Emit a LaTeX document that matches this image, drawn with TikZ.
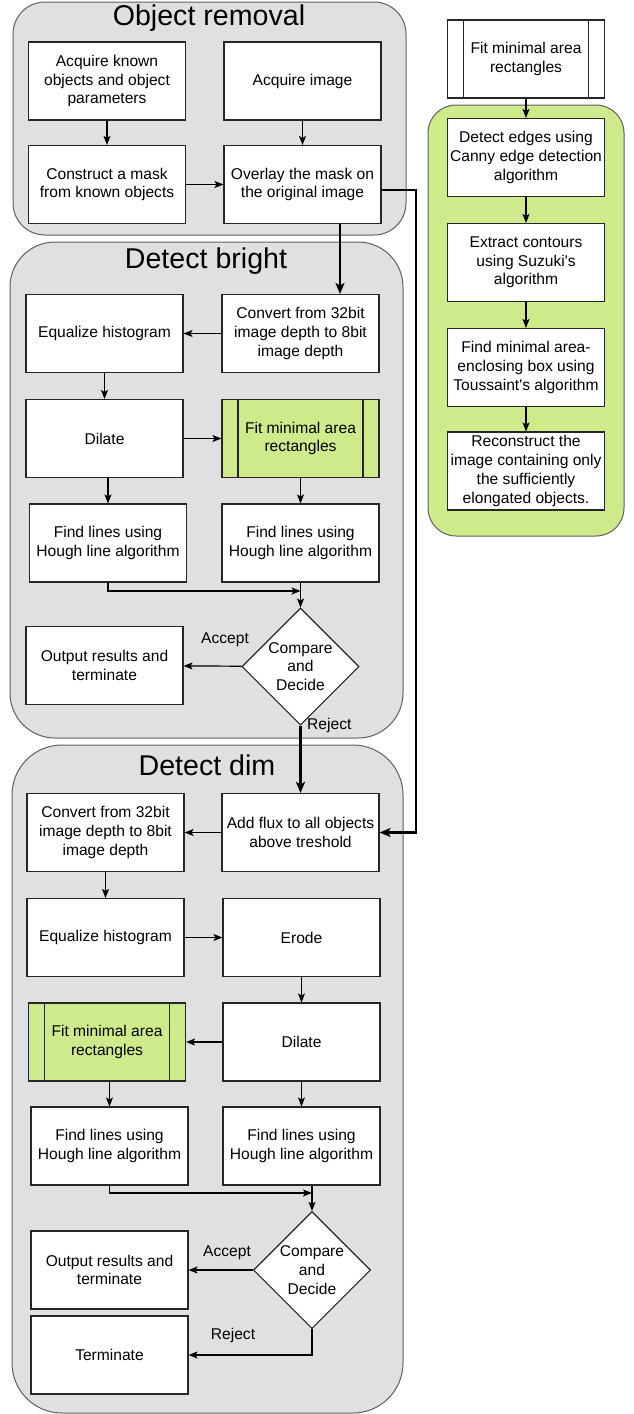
\documentclass[tikz,border=0pt]{standalone}
\usepackage{fontspec}
\setmainfont{Liberation Sans}[Ligatures=TeXOff]
\usetikzlibrary{shapes.geometric,arrows.meta}
\definecolor{panelgray}{RGB}{224,224,224}
\definecolor{panelline}{RGB}{95,95,95}
\definecolor{fitgreen}{RGB}{205,235,139}
\tikzset{
  box/.style={draw=black!85,line width=1.1pt,fill=white,minimum width=157,minimum height=78,inner sep=0pt,align=center,font=\fontsize{15.6}{18.7}\selectfont},
  fitbox/.style={box,fill=fitgreen,path picture={\draw[black!85,line width=1.1pt] ([xshift=16pt]path picture bounding box.north west) -- ([xshift=16pt]path picture bounding box.south west) ([xshift=-16pt]path picture bounding box.north east) -- ([xshift=-16pt]path picture bounding box.south east);}},
  decide/.style={box,shape=diamond,minimum width=117,minimum height=117,aspect=1,inner sep=-6pt},
  panel/.style={draw=panelline,fill=panelgray,line width=1pt},
  title/.style={font=\fontsize{28.6}{34}\selectfont,anchor=base,inner sep=0pt},
  tag/.style={font=\fontsize{15.6}{18.7}\selectfont,inner sep=0pt},
  flow/.style={-{Stealth[length=9pt,width=7pt,inset=2pt]},line width=1.2pt},
  mainflow/.style={-{Stealth[length=11pt,width=9pt,inset=2.5pt]},line width=2.4pt}
}
\begin{document}
\begin{tikzpicture}[x=1pt,y=-1pt]
\useasboundingbox (0,0) rectangle (633,1414);
\draw[panel,rounded corners=32pt] (13,2) rectangle (406,235);
\draw[panel,rounded corners=45pt] (10,242) rectangle (403,738);
\draw[panel,rounded corners=50pt] (12,745) rectangle (403,1413);
\draw[panel,fill=fitgreen,rounded corners=28pt] (428,105) rectangle (624,536);
\node[title] (ortitle) at (209,25) {Object removal};
\node[title] (dbtitle) at (206,268) {Detect bright};
\node[title] (ddtitle) at (207,775) {Detect dim};
% object removal
\node[box] (acqobj) at (107,81) {Acquire known\\objects and object\\parameters};
\node[box] (acqimg) at (302.5,81) {Acquire image};
\node[box] (constr) at (107,184.5) {Construct a mask\\from known objects};
\node[box] (overlay) at (302.5,184.5) {Overlay the mask on\\the original image};
% detect bright
\node[box] (eqb) at (104.5,333.5) {Equalize histogram};
\node[box] (convb) at (300.5,333.5) {Convert from 32bit\\image depth to 8bit\\image depth};
\node[box] (dilb) at (104.5,438.5) {Dilate};
\node[fitbox] (fitb) at (300.5,438.5) {Fit minimal area\\rectangles};
\node[box] (findlb) at (108,543) {Find lines using\\Hough line algorithm};
\node[box] (findrb) at (300.5,543) {Find lines using\\Hough line algorithm};
\node[decide] (cmpb) at (300.5,666.5) {Compare\\and\\Decide};
\node[box] (outb) at (104.5,665.5) {Output results and\\terminate};
% detect dim
\node[box] (convd) at (105.5,832.5) {Convert from 32bit\\image depth to 8bit\\image depth};
\node[box] (addd) at (300.5,832.5) {Add flux to all objects\\above treshold};
\node[box] (eqd) at (105.5,937.5) {Equalize histogram};
\node[box] (erod) at (301.5,937.5) {Erode};
\node[fitbox] (fitd) at (107,1042) {Fit minimal area\\rectangles};
\node[box] (dild) at (301.5,1042) {Dilate};
\node[box] (findld) at (109.5,1146) {Find lines using\\Hough line algorithm};
\node[box] (findrd) at (301.5,1146) {Find lines using\\Hough line algorithm};
\node[decide] (cmpd) at (312,1270) {Compare\\and\\Decide};
\node[box] (outd) at (109.5,1270) {Output results and\\terminate};
\node[box] (termd) at (109.5,1355) {Terminate};
% fit minimal area rectangles
\node[fitbox,fill=white] (fittop) at (526,59) {Fit minimal area\\rectangles};
\node[box] (edges) at (526,157.5) {Detect edges using\\Canny edge detection\\algorithm};
\node[box] (contours) at (526,262.5) {Extract contours\\using Suzuki's\\algorithm};
\node[box] (minbox) at (526,367.5) {Find minimal area-\\enclosing box using\\Toussaint's algorithm};
\node[box] (recon) at (526,471) {Reconstruct the\\image containing only\\the sufficiently\\elongated objects.};
\node[tag] (acceptb) at (225,640) {Accept};
\node[tag,anchor=west] (rejectb) at (307,725) {Reject};
\node[tag] (acceptd) at (227,1253) {Accept};
\node[tag] (rejectd) at (233,1335) {Reject};
\coordinate (dropb) at (340,0);
\coordinate (sidebus) at (416,190);
\coordinate (joinb) at (300.5,591);
\coordinate (joind) at (312,1193);
\foreach \a/\b in {acqobj/constr,acqimg/overlay,constr/overlay,convb/eqb,eqb/dilb,dilb/fitb,fitb/findrb,findrb/cmpb,cmpb/outb}\draw[flow] (\a) -- (\b);
\foreach \a/\b in {addd/convd,convd/eqd,eqd/erod,erod/dild,dild/fitd,dild/findrd,cmpd/outd}\draw[flow] (\a) -- (\b);
\foreach \a/\b in {fittop/edges,edges/contours,contours/minbox,minbox/recon}\draw[flow] (\a) -- (\b);
\draw[flow] (dilb.south -| findlb) -- (findlb);
\draw[flow] (findlb.south) |- (joinb);
\draw[flow] (fitd.south -| findld) -- (findld);
\draw[flow] (findld.south) |- (joind);
\draw[flow] (findrd.south -| cmpd) -- (cmpd);
\draw[flow] (cmpd.south) |- (termd);
\draw[mainflow] (overlay.south -| dropb) -- (convb.north -| dropb);
\draw[mainflow] (overlay.east |- sidebus) -- (sidebus) -- (sidebus |- addd.east) -- (addd.east);
\draw[mainflow] (cmpb) -- (addd);
\end{tikzpicture}
\end{document}
